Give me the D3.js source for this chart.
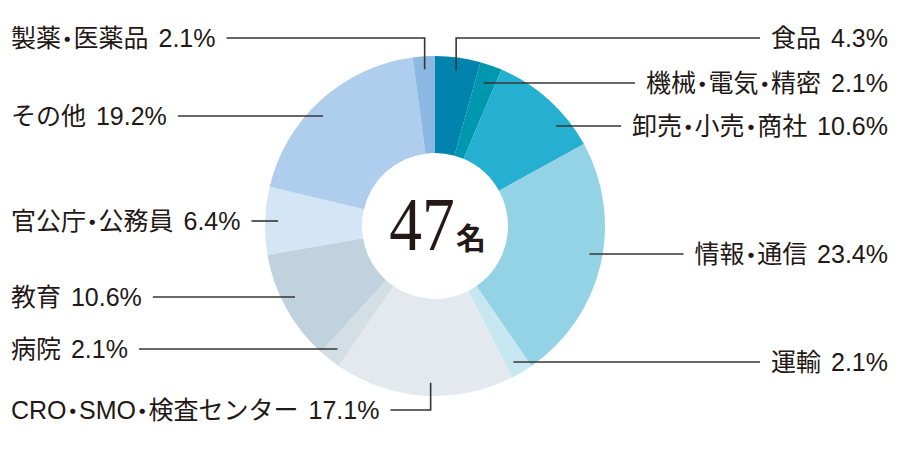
<!DOCTYPE html>
<html>
<head>
<meta charset="utf-8">
<title>就職先内訳</title>
<style>
  body { margin: 0; background: #fff; }
  text { font-family: "Liberation Sans", "Noto Sans CJK JP", sans-serif; fill: #231815; }
  .dot { font-family: "Noto Sans CJK JP", sans-serif; font-feature-settings: "palt"; }
</style>
<script src="https://d3js.org/d3.v7.min.js"></script>
</head>
<body>
<div id="container"></div>
<script>
// ******* Data *******
const categories = ["食品", "機械・電気・精密", "卸売・小売・商社", "情報・通信", "運輸",
                    "CRO・SMO・検査センター", "病院", "教育", "官公庁・公務員", "その他", "製薬・医薬品"];
const shares = [4.3, 2.1, 10.6, 23.4, 2.1, 17.1, 2.1, 10.6, 6.4, 19.2, 2.1];
const total = 47;
const colors = ["#0083ad", "#0098ae", "#25afd0", "#93d3e5", "#c6e6f0",
                "#e3e9ee", "#d3dee5", "#bfd2dd", "#d4e5f5", "#afceed", "#8bb9e3"];

// ******* Layout (label rows, not data) *******
// side: 1 = right, -1 = left; elbow: line drops vertically into the slice
const labelRows = [
  {y: 38,  side: 1,  elbow: true},
  {y: 83,  side: 1,  r: 151},
  {y: 126, side: 1},
  {y: 254, side: 1},
  {y: 362, side: 1},
  {y: 410, side: -1, elbow: true, shift: 6},
  {y: 349, side: -1},
  {y: 297, side: -1},
  {y: 221, side: -1},
  {y: 116, side: -1},
  {y: 38,  side: -1, elbow: true}
];

const width = 900, height = 452;
const cx = 435, cy = 226, outerR = 170, innerR = 73, anchorR = 157;
const fontsize = 25, gap = 11;

const svg = d3.select("#container").append("svg")
    .attr("width", width)
    .attr("height", height);

const pie = d3.pie().sort(null).value(d => d)(shares);
const arc = d3.arc().innerRadius(innerR).outerRadius(outerR);

const g = svg.append("g").attr("transform", `translate(${cx},${cy})`);

g.selectAll("path")
    .data(pie)
    .enter()
    .append("path")
    .attr("d", arc)
    .attr("fill", (d, i) => colors[i]);

// centre label: condensed serif number + bold 名
svg.append("text")
    .attr("transform", "translate(422,250) scale(0.85,1)")
    .attr("text-anchor", "middle")
    .style("font-family", "'Liberation Serif', serif")
    .attr("font-size", 77)
    .text(total);
svg.append("text")
    .attr("x", 456)
    .attr("y", 249)
    .style("font-family", "'Noto Sans CJK JP', sans-serif")
    .attr("font-size", 30)
    .attr("font-weight", "bold")
    .text("名");

// ******* Labels + leader lines *******
pie.forEach((d, i) => {
  const row = labelRows[i];
  const label = svg.append("text")
      .attr("x", row.side > 0 ? 888 : 11)
      .attr("y", row.y)
      .attr("dominant-baseline", "central")
      .attr("text-anchor", row.side > 0 ? "end" : "start")
      .attr("font-size", fontsize)
      .attr("word-spacing", 3);
  // split on ・ so the dot can use proportional width
  const parts = categories[i].split("・");
  parts.forEach((p, j) => {
    if (j > 0) label.append("tspan").attr("class", "dot").text("・");
    label.append("tspan").text(p);
  });
  label.append("tspan").text(` ${shares[i].toFixed(1)}%`);

  const box = label.node().getBBox();
  const lineStart = row.side > 0 ? box.x - gap : box.x + box.width + gap;

  let pts;
  if (row.elbow) {
    const a = (d.startAngle + d.endAngle) / 2;
    const ax = cx + anchorR * Math.sin(a) + (row.shift || 0),
          ay = cy - anchorR * Math.cos(a);
    pts = [[lineStart, row.y], [ax, row.y], [ax, ay]];
  } else {
    const r = row.r || anchorR;
    const dy = row.y - cy;
    const dx = Math.sqrt(r * r - dy * dy);
    pts = [[lineStart, row.y], [cx + row.side * dx, row.y]];
  }
  svg.append("path")
      .attr("d", d3.line()(pts))
      .attr("fill", "none")
      .attr("stroke", "#3a3533")
      .attr("stroke-width", 1.6);
});
</script>
</body>
</html>
